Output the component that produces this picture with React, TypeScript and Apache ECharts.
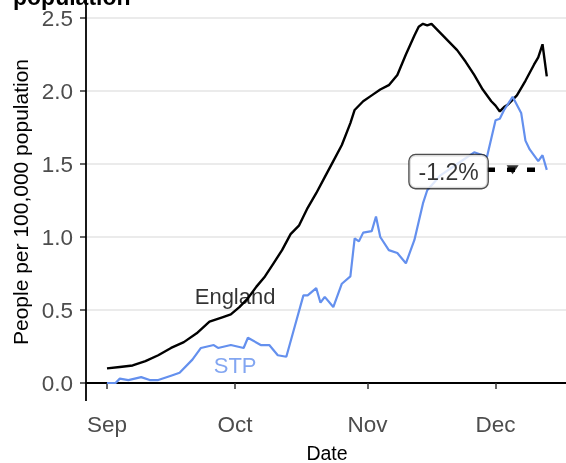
import React, { useEffect, useRef } from "react";
import * as echarts from "echarts";

const englandDates = [
  "2020-09-01","2020-09-04","2020-09-07","2020-09-10","2020-09-13","2020-09-16","2020-09-19","2020-09-22",
  "2020-09-25","2020-09-28","2020-09-30","2020-10-02","2020-10-04","2020-10-06","2020-10-08","2020-10-10",
  "2020-10-12","2020-10-14","2020-10-16","2020-10-18","2020-10-20","2020-10-22","2020-10-24","2020-10-26",
  "2020-10-28","2020-10-29","2020-10-31","2020-11-02","2020-11-04","2020-11-06","2020-11-08","2020-11-10",
  "2020-11-12","2020-11-13","2020-11-14","2020-11-15","2020-11-16","2020-11-18","2020-11-20","2020-11-22",
  "2020-11-24","2020-11-26","2020-11-28","2020-11-30","2020-12-01","2020-12-02","2020-12-03","2020-12-04",
  "2020-12-06","2020-12-08","2020-12-10","2020-12-11","2020-12-12","2020-12-13",
];
const englandValues = [
  0.10, 0.11, 0.12, 0.15, 0.19, 0.24, 0.28, 0.34,
  0.42, 0.45, 0.47, 0.52, 0.58, 0.66, 0.73, 0.82,
  0.91, 1.02, 1.08, 1.20, 1.30, 1.41, 1.52, 1.63,
  1.78, 1.87, 1.93, 1.97, 2.01, 2.04, 2.11, 2.25,
  2.38, 2.44, 2.46, 2.45, 2.46, 2.40, 2.34, 2.28,
  2.20, 2.11, 2.01, 1.93, 1.90, 1.86, 1.89, 1.91,
  1.97, 2.07, 2.18, 2.23, 2.32, 2.10,
];

const stpDates = [
  "2020-09-01","2020-09-03","2020-09-04","2020-09-06","2020-09-09","2020-09-11","2020-09-13","2020-09-16",
  "2020-09-18","2020-09-21","2020-09-23","2020-09-26","2020-09-27","2020-09-30","2020-10-03","2020-10-04",
  "2020-10-07","2020-10-09","2020-10-11","2020-10-13","2020-10-15","2020-10-17","2020-10-18","2020-10-20",
  "2020-10-21","2020-10-22","2020-10-24","2020-10-26","2020-10-28","2020-10-29","2020-10-30","2020-10-31",
  "2020-11-02","2020-11-03","2020-11-04","2020-11-06","2020-11-08","2020-11-10","2020-11-12","2020-11-14",
  "2020-11-15","2020-11-18","2020-11-22","2020-11-26","2020-11-29","2020-12-01","2020-12-02","2020-12-03",
  "2020-12-05","2020-12-07","2020-12-08","2020-12-09","2020-12-11","2020-12-12","2020-12-13",
];
const stpValues = [
  0.00, 0.00, 0.03, 0.02, 0.04, 0.02, 0.02, 0.05,
  0.07, 0.16, 0.24, 0.26, 0.24, 0.26, 0.24, 0.31,
  0.26, 0.26, 0.19, 0.18, 0.39, 0.60, 0.60, 0.65,
  0.55, 0.59, 0.52, 0.68, 0.73, 0.99, 0.97, 1.03,
  1.04, 1.14, 1.00, 0.91, 0.89, 0.82, 0.98, 1.23,
  1.32, 1.42, 1.50, 1.58, 1.55, 1.80, 1.81, 1.87,
  1.96, 1.85, 1.66, 1.60, 1.52, 1.56, 1.46,
];

const monthTickDates = ["2020-09-01", "2020-10-01", "2020-11-01", "2020-12-01"];
const monthTickLabels = ["Sep", "Oct", "Nov", "Dec"];
const yTicks = [0, 0.5, 1.0, 1.5, 2.0, 2.5];

const seriesLabels = ["England", "STP"];
const seriesLabelDates = ["2020-10-01", "2020-10-01"];
const seriesLabelValues = [0.59, 0.12];

const changeText = "-1.2%";
const changeDate = "2020-11-20";
const changeValue = 1.448;
const trendDates = ["2020-11-29", "2020-12-11"];
const trendValue = 1.46;
const arrowDate = "2020-12-05";

const DAY = 86400000;
const ts = (s: string) => Date.parse(s);

const BLUE = "#6490ee";
const FONT = "'Liberation Sans', Arial, sans-serif";

export default function App() {
  const ref = useRef<HTMLDivElement>(null);
  useEffect(() => {
    if (!ref.current) return;
    const chart = echarts.init(ref.current, undefined, { renderer: "svg" });
    const base = ts(monthTickDates[0]);
    const xMin = base - 4.92 * DAY;
    const xMax = base + 107.5 * DAY;
    const tickTs = monthTickDates.map(ts);

    chart.setOption({
      animation: false,
      textStyle: { fontFamily: FONT },
      grid: { left: 86, right: 0, top: 18, bottom: 80, containLabel: false },
      xAxis: {
        type: "value",
        min: xMin,
        max: xMax,
        offset: 17,
        axisLine: { show: true, lineStyle: { color: "#000", width: 1.8 } },
        axisTick: {
          show: true,
          length: 6,
          lineStyle: { color: "#333", width: 1.5 },
          customValues: tickTs,
        },
        axisLabel: {
          customValues: tickTs,
          formatter: (v: number) => {
            const i = tickTs.indexOf(v);
            return i >= 0 ? monthTickLabels[i] : "";
          },
          fontSize: 22.5,
          color: "#4d4d4d",
          margin: 13,
          fontFamily: FONT,
        },
        splitLine: { show: false },
      },
      yAxis: {
        type: "value",
        min: 0,
        max: 2.5,
        interval: 0.5,
        axisLine: { show: false },
        axisTick: { show: true, length: 6, lineStyle: { color: "#333", width: 1.5 } },
        axisLabel: {
          formatter: (v: number) => (yTicks.includes(v) ? v.toFixed(1) : ""),
          fontSize: 22.5,
          color: "#4d4d4d",
          margin: 13,
          fontFamily: FONT,
        },
        splitLine: { show: true, lineStyle: { color: "#ebebeb", width: 2 } },
      },
      graphic: [
        {
          type: "line",
          shape: { x1: 86, y1: 0, x2: 86, y2: 400.9 },
          style: { stroke: "#000", lineWidth: 1.8 },
          z: 100,
        },
        {
          type: "text",
          x: 13,
          y: -3,
          style: {
            text: "population",
            font: `bold 23px ${FONT}`,
            fill: "#000",
            align: "left",
            verticalAlign: "middle",
          },
        },
        {
          type: "text",
          x: 20,
          y: 202,
          rotation: Math.PI / 2,
          style: {
            text: "People per 100,000 population",
            font: `21px ${FONT}`,
            fill: "#000",
            align: "center",
            verticalAlign: "middle",
          },
        },
        {
          type: "text",
          x: 327,
          y: 453,
          style: {
            text: "Date",
            font: `19.5px ${FONT}`,
            fill: "#000",
            align: "center",
            verticalAlign: "middle",
          },
        },
      ],
      series: [
        {
          type: "line",
          name: "England",
          data: englandDates.map((d, i) => [ts(d), englandValues[i]]),
          showSymbol: false,
          symbol: "none",
          lineStyle: { color: "#000", width: 2.4 },
          z: 3,
        },
        {
          type: "line",
          name: "STP",
          data: stpDates.map((d, i) => [ts(d), stpValues[i]]),
          showSymbol: false,
          symbol: "none",
          lineStyle: { color: BLUE, width: 2.2 },
          z: 4,
        },
        {
          type: "line",
          name: "trend",
          data: trendDates.map((d) => [ts(d), trendValue]),
          showSymbol: false,
          symbol: "none",
          lineStyle: { color: "#000", width: 4.5, type: [8, 12] },
          z: 5,
        },
        {
          type: "scatter",
          name: "arrow",
          data: [[ts(arrowDate), trendValue]],
          symbol: "triangle",
          symbolRotate: 180,
          symbolSize: [12, 9],
          itemStyle: { color: "#000" },
          z: 6,
        },
        {
          type: "scatter",
          name: "labels",
          data: seriesLabels.map((t, i) => ({
            value: [ts(seriesLabelDates[i]), seriesLabelValues[i]],
            label: { formatter: t, color: i === 0 ? "#000" : BLUE },
          })),
          symbolSize: 0,
          label: {
            show: true,
            position: "inside",
            fontSize: 22,
            fontFamily: FONT,
          },
          z: 7,
        },
        {
          type: "scatter",
          name: "change",
          data: [[ts(changeDate), changeValue]],
          symbolSize: 0,
          label: {
            show: true,
            position: "inside",
            formatter: changeText,
            fontSize: 23,
            fontFamily: FONT,
            color: "#000",
            backgroundColor: "#fff",
            borderColor: "#222",
            borderWidth: 1.3,
            borderRadius: 6,
            padding: [5, 9],
          },
          z: 10,
        },
      ],
    });
    return () => chart.dispose();
  }, []);

  return (
    <div
      ref={ref}
      style={{ position: "fixed", left: 0, top: 0, width: 566, height: 463 }}
    />
  );
}
